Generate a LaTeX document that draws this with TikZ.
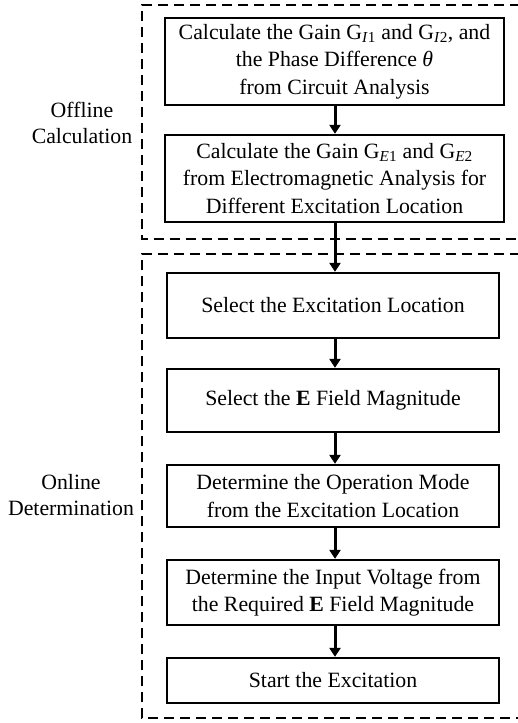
\documentclass[tikz,border=0pt]{standalone}
\usepackage{fontspec}
\setmainfont{Liberation Serif}
\usetikzlibrary{arrows.meta}
\begin{document}
\begin{tikzpicture}[x=1pt,y=-1pt,
  stepbox/.style={draw=black,line width=2.3pt,align=center,inner sep=0pt,font=\fontsize{21.8}{27.5}\selectfont},
  flow/.style={line width=3pt,-{Triangle[length=9pt,width=11pt]}},
  group/.style={line width=2.8pt,dash pattern=on 10pt off 6pt},
  side/.style={align=center,font=\fontsize{21.8}{26}\selectfont}]
\useasboundingbox (0,0) rectangle (517,723);
\node[stepbox,minimum width=339pt,minimum height=87pt] (b1) at (334.5,61.5)
  {Calculate the Gain G\textsubscript{\textit{I}1} and G\textsubscript{\textit{I}2}, and\\the Phase Difference \textit{θ}\\from Circuit Analysis};
\node[stepbox,minimum width=339pt,minimum height=87pt] (b2) at (334.5,178.5)
  {Calculate the Gain G\textsubscript{\textit{E}1} and G\textsubscript{\textit{E}2}\\from Electromagnetic Analysis for\\Different Excitation Location};
\node[stepbox,minimum width=332pt,minimum height=65pt] (b3) at (333,305.5)
  {Select the Excitation Location};
\node[stepbox,minimum width=332pt,minimum height=63pt] (b4) at (333,400.5)
  {Select the \textbf{E} Field Magnitude};
\node[stepbox,minimum width=332pt,minimum height=62pt] (b5) at (333,496)
  {Determine the Operation Mode\\from the Excitation Location};
\node[stepbox,minimum width=332pt,minimum height=65pt] (b6) at (333,592.5)
  {Determine the Input Voltage from\\the Required \textbf{E} Field Magnitude};
\node[stepbox,minimum width=332pt,minimum height=45pt] (b7) at (333,680.5)
  {Start the Excitation};
\draw[flow] (b1.south -| 335,0) -- (b2.north -| 335,0);
\draw[flow] (b2.south -| 335,0) -- (b3.north -| 335,0);
\draw[flow] (b3.south -| 335,0) -- (b4.north -| 335,0);
\draw[flow] (b4.south -| 335,0) -- (b5.north -| 335,0);
\draw[flow] (b5.south -| 335,0) -- (b6.north -| 335,0);
\draw[flow] (b6.south -| 335,0) -- (b7.north -| 335,0);
\coordinate (g1a) at (520,5);
\coordinate (g1b) at (142,5);
\coordinate (g1c) at (142,239);
\coordinate (g1d) at (520,239);
\draw[group] (g1a) -- (g1b) -- (g1c) -- (g1d);
\coordinate (g2a) at (520,254);
\coordinate (g2b) at (142,254);
\coordinate (g2c) at (142,718);
\coordinate (g2d) at (520,718);
\draw[group] (g2a) -- (g2b) -- (g2c) -- (g2d);
\node[side] (off) at (82,123) {Offline\\Calculation};
\node[side] (on) at (71,495) {Online\\Determination};
\end{tikzpicture}
\end{document}
